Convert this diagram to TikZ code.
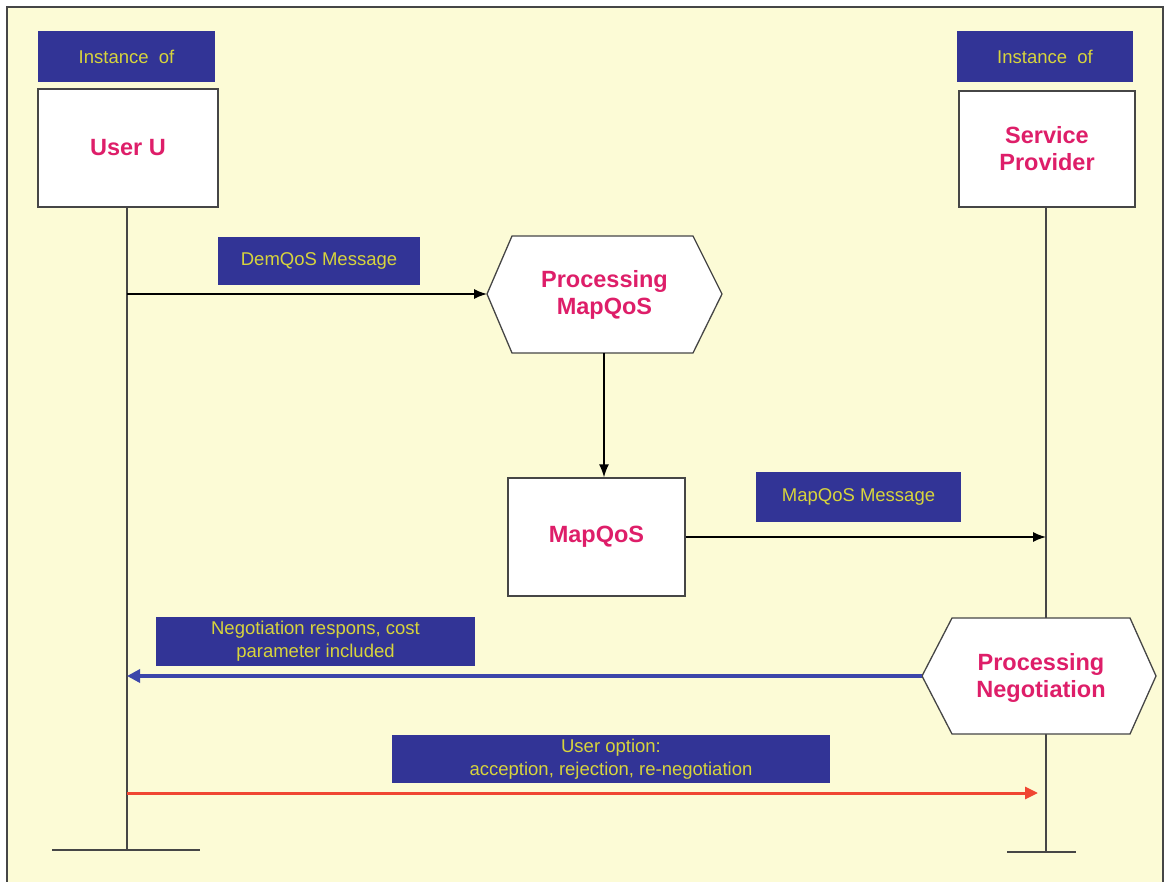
\documentclass[tikz,border=0pt]{standalone}
\usepackage{fontspec}
\setmainfont{Liberation Sans}
\usetikzlibrary{arrows.meta}
\definecolor{bg}{RGB}{252,251,214}
\definecolor{lblue}{RGB}{50,52,150}
\definecolor{ltext}{RGB}{215,212,60}
\definecolor{pink}{RGB}{222,30,105}
\definecolor{frame}{RGB}{70,70,70}
\definecolor{nblue}{RGB}{60,70,170}
\definecolor{ured}{RGB}{240,70,50}
\tikzset{
  lbl/.style={fill=lblue, draw=none, text=ltext, inner sep=0pt, align=center,
    font=\fontsize{18.5}{23}\selectfont},
  whitebox/.style={fill=white, draw=frame, line width=1.3pt, inner sep=0pt, align=center,
    text=pink, font=\bfseries\fontsize{23.5}{27}\selectfont},
  ptext/.style={text=pink, align=center, font=\bfseries\fontsize{23.5}{27}\selectfont},
  life/.style={draw=frame, line width=1.2pt},
  msg/.style={draw=black, line width=1.5pt, -{Latex[length=13pt,width=10pt]}},
}
\begin{document}
\begin{tikzpicture}[x=1pt,y=-1pt]
\useasboundingbox (0,0) rectangle (1167,882);
\fill[white] (0,0) rectangle (1167,882);
\fill[bg] (7,7) rectangle (1163,892);
\draw[frame, line width=1.8pt] (7,892) -- (7,7) -- (1163,7) -- (1163,892);

% header labels
\node[lbl, minimum width=177pt, minimum height=51pt] (instL) at (126.5,56.5) {Instance \ of};
\node[lbl, minimum width=176pt, minimum height=51pt] (instR) at (1045,57) {Instance \ of};

% participants
\node[whitebox, minimum width=180pt, minimum height=118pt] (user) at (128,148) {User U};
\node[whitebox, minimum width=176pt, minimum height=116pt] (sp) at (1047,149) {Service\\Provider};

% lifelines
\coordinate (lEnd) at (127,850);
\coordinate (rEnd) at (1046,852);
\draw[life] (127,207) -- (lEnd);
\draw[life] (1046,207) -- (1046,618);
\draw[life] (1046,734) -- (rEnd);
\draw[life] (52,850) -- (200,850);
\draw[life] (1007,852) -- (1076,852);

% processing MapQoS hexagon
\coordinate (hL) at (487,294);
\filldraw[fill=white, draw=frame, line width=1.3pt]
  (487,294) -- (512,236) -- (693,236) -- (722,294) -- (693,353) -- (512,353) -- cycle;
\node[ptext] (pmap) at (604.5,295) {Processing\\MapQoS};
\coordinate (hB) at (604,353);

% MapQoS box
\node[whitebox, minimum width=177pt, minimum height=118pt] (map) at (596.5,537) {MapQoS};

% Processing negotiation hexagon
\coordinate (nL) at (922,676);
\filldraw[fill=white, draw=frame, line width=1.3pt]
  (922,676) -- (952,618) -- (1130,618) -- (1156,676) -- (1130,734) -- (952,734) -- cycle;
\node[ptext] (pneg) at (1041,678) {Processing\\Negotiation};

% message labels
\node[lbl, minimum width=202pt, minimum height=48pt] (dem) at (319,261) {DemQoS Message};
\node[lbl, minimum width=205pt, minimum height=50pt] (mapmsg) at (858.5,497) {MapQoS Message};
\node[lbl, minimum width=319pt, minimum height=49pt] (negmsg) at (315.5,641.5) {Negotiation respons, cost\\parameter included};
\node[lbl, minimum width=438pt, minimum height=48pt] (uopt) at (611,759) {User option:\\acception, rejection, re-negotiation};

% connectors
\coordinate (uD) at (127,294);
\draw[msg] (uD) -- (hL);
\draw[msg] (hB) -- (hB |- map.north);
\coordinate (spM) at (1046,537);
\draw[msg] (map.east |- spM) -- (spM);
\coordinate (uN) at (127,676);
\draw[nblue, line width=4pt, -{Triangle[length=13pt,width=13pt]}] (nL) -- (uN);
\coordinate (uR) at (127,793);
\coordinate (spR) at (1038,793);
\draw[ured, line width=3pt, -{Triangle[length=13pt,width=12pt]}] (uR) -- (spR);
\end{tikzpicture}
\end{document}
